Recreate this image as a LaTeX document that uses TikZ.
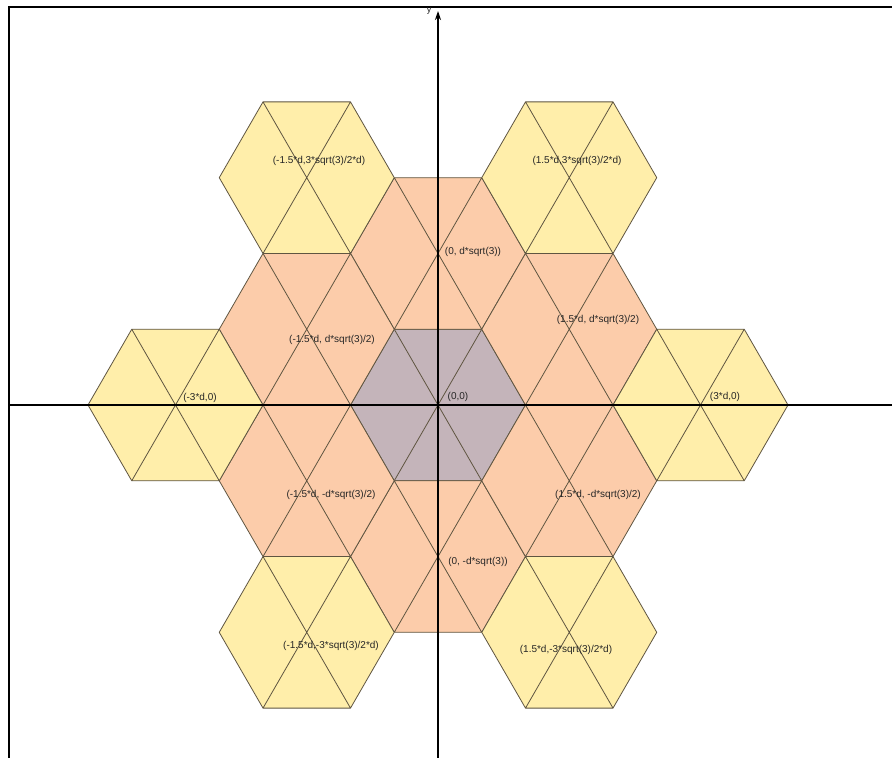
\documentclass[tikz,border=0pt]{standalone}
\usepackage{fontspec}
\setmainfont{Liberation Sans}
\usetikzlibrary{arrows.meta}
\definecolor{hexyel}{RGB}{255,238,170}
\definecolor{hexora}{RGB}{252,204,170}
\definecolor{hexgry}{RGB}{196,180,186}
\definecolor{hexedge}{RGB}{95,85,65}
\newcommand\hexcell[3]{%
  \begin{scope}[shift={(#1,#2)}]
    \path[fill=#3] (0:\R)--(60:\R)--(120:\R)--(180:\R)--(240:\R)--(300:\R)--cycle;
    \draw[hexline] (0:\R)--(60:\R)--(120:\R)--(180:\R)--(240:\R)--(300:\R)--cycle
      (60:\R)--(240:\R) (120:\R)--(300:\R);
  \end{scope}}
\begin{document}
\begin{tikzpicture}[x=1pt,y=-1pt,
  hexline/.style={draw=hexedge, line width=0.8pt, line join=round},
  lbl/.style={font=\fontsize{10}{12}\selectfont, inner sep=0pt, text=black!85},
  axis/.style={draw=black, line width=1.3pt}]
\useasboundingbox (0,0) rectangle (892,758);
\fill[white] (0,0) rectangle (892,758);
\def\R{87.5}
\def\H{75.777}
\pgfmathsetmacro\Ox{438}
\pgfmathsetmacro\Oy{405}
% center
\hexcell{\Ox}{\Oy}{hexgry}
% orange ring
\hexcell{\Ox}{\Oy-2*\H}{hexora}
\hexcell{\Ox}{\Oy+2*\H}{hexora}
\hexcell{\Ox+1.5*\R}{\Oy-\H}{hexora}
\hexcell{\Ox+1.5*\R}{\Oy+\H}{hexora}
\hexcell{\Ox-1.5*\R}{\Oy-\H}{hexora}
\hexcell{\Ox-1.5*\R}{\Oy+\H}{hexora}
% yellow
\hexcell{\Ox+3*\R}{\Oy}{hexyel}
\hexcell{\Ox-3*\R}{\Oy}{hexyel}
\hexcell{\Ox+1.5*\R}{\Oy-3*\H}{hexyel}
\hexcell{\Ox+1.5*\R}{\Oy+3*\H}{hexyel}
\hexcell{\Ox-1.5*\R}{\Oy-3*\H}{hexyel}
\hexcell{\Ox-1.5*\R}{\Oy+3*\H}{hexyel}
% frame
\draw[line width=2pt] (9,758) -- (9,7) -- (892,7);
% axes
\coordinate (xa) at (10,405);
\coordinate (xb) at (892,405);
\coordinate (ya) at (438,758);
\coordinate (yb) at (438,11);
\draw[axis] (xa) -- (xb);
\draw[axis, -{Stealth[length=9pt,width=6pt]}] (ya) -- (yb);
\node[lbl, font=\fontsize{9}{10}\selectfont] (ylab) at (429,11) {y};
% labels
\node[lbl] (l00) at (458,397) {(0,0)};
\node[lbl] (l0p) at (473,252) {(0, d*sqrt(3))};
\node[lbl] (l0m) at (478,562) {(0, -d*sqrt(3))};
\node[lbl] (lpp) at (598,320) {(1.5*d, d*sqrt(3)/2)};
\node[lbl] (lmp) at (332,340) {(-1.5*d, d*sqrt(3)/2)};
\node[lbl] (lpm) at (598,495) {(1.5*d, -d*sqrt(3)/2)};
\node[lbl] (lmm) at (331,495) {(-1.5*d, -d*sqrt(3)/2)};
\node[lbl] (l3m) at (200,398) {(-3*d,0)};
\node[lbl] (l3p) at (725,397) {(3*d,0)};
\node[lbl] (lttl) at (319,161) {(-1.5*d,3*sqrt(3)/2*d)};
\node[lbl] (lttr) at (577,161) {(1.5*d,3*sqrt(3)/2*d)};
\node[lbl] (lbbl) at (331,646) {(-1.5*d,-3*sqrt(3)/2*d)};
\node[lbl] (lbbr) at (566,650) {(1.5*d,-3*sqrt(3)/2*d)};
\end{tikzpicture}
\end{document}
